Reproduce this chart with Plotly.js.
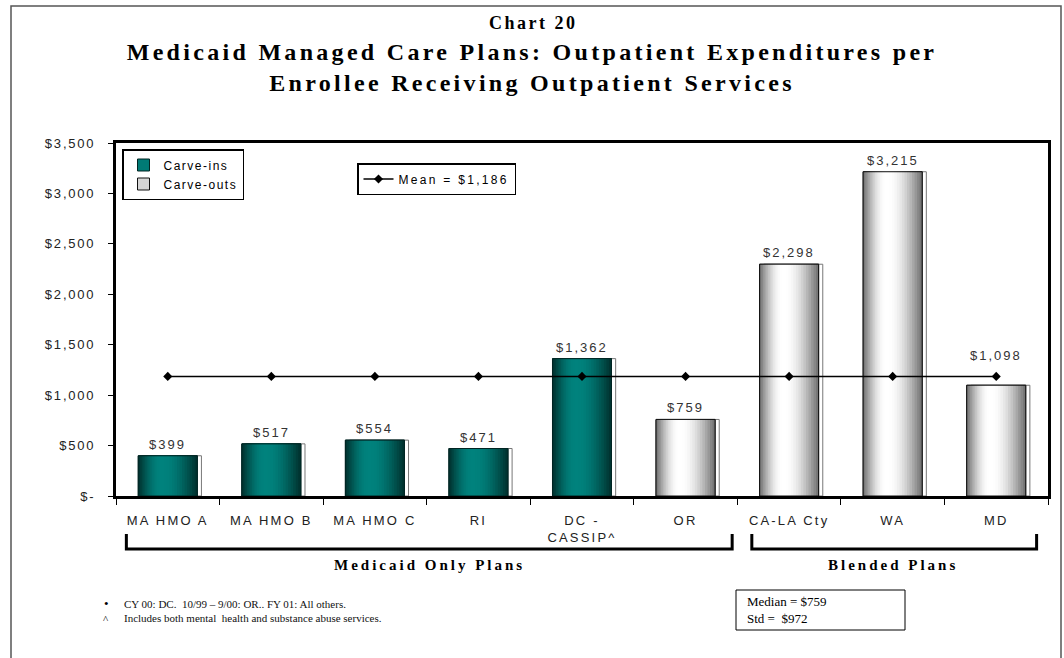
<!DOCTYPE html>
<html>
<head>
<meta charset="utf-8">
<script src="https://cdn.plot.ly/plotly-3.0.1.min.js"></script>
<style>
  html, body { margin: 0; padding: 0; background: #fff; }
  #chart { width: 1064px; height: 658px; }
  .xtick text { letter-spacing: 2.2px; }
  .ytick text { letter-spacing: 1.8px; }
</style>
</head>
<body>
<div id="chart"></div>
<script>
// ---------- data ----------
const categories = ['MA HMO A', 'MA HMO B', 'MA HMO C', 'RI', 'DC -<br>CASSIP^', 'OR', 'CA-LA Cty', 'WA', 'MD'];
const carveIns  = [399, 517, 554, 471, 1362, null, null, null, null];
const carveOuts = [null, null, null, null, null, 759, 2298, 3215, 1098];
const meanValues = [1186, 1186, 1186, 1186, 1186, 1186, 1186, 1186, 1186];
const meanLabel = 'Mean = $1,186';
const seriesNames = ['Carve-ins', 'Carve-outs'];
const yTickVals = [0, 500, 1000, 1500, 2000, 2500, 3000, 3500];
const yTickText = ['$-', '$500', '$1,000', '$1,500', '$2,000', '$2,500', '$3,000', '$3,500'];
const groupNames = ['Medicaid Only Plans', 'Blended Plans'];
const medianText = 'Median = $759';
const stdText = 'Std =  $972';
const footnotes = ['CY 00: DC.  10/99 \u2013 9/00: OR.. FY 01: All others.',
                   'Includes both mental  health and substance abuse services.'];

// ---------- layout helpers (pixel -> paper) ----------
const M = {l: 116, r: 16, t: 143, b: 162};
const PW = 1064 - M.l - M.r, PH = 658 - M.t - M.b;
const px = v => (v - M.l) / PW;
const py = v => (658 - M.b - v) / PH;
const spaced = (s, ls) => '<span style="letter-spacing:' + ls + 'px">' + s + '</span>';

const W = 0.57;           // bar width in category units
const N = 14;             // gradient layers

function hex2rgb(h){ return [1,3,5].map(i => parseInt(h.substr(i,2),16)); }
function mix(a, b, t){
  const A = hex2rgb(a), B = hex2rgb(b);
  return 'rgb(' + A.map((v,i) => Math.round(v + (B[i]-v)*t)).join(',') + ')';
}

function barSeries(values, name, opts){
  const tr = [];
  tr.push({type:'bar', x:categories, y:values, width:W, offset:-W/2 + 0.04,
    marker:{color:'#ffffff', line:{color:opts.shadow, width:1}},
    showlegend:false, hoverinfo:'skip'});
  tr.push({type:'bar', x:categories, y:values, width:W, offset:-W/2, name:spaced(name, 1.5),
    legend:'legend',
    marker:{color:opts.swatch, line:{color:opts.outline, width:1}},
    showlegend:true, hoverinfo:'skip'});
  for (let k = 0; k < N; k++){
    const t = k / (N - 1);
    const left = -W/2 + t * 0.40 * W * (N-1)/N;
    const right = W/2 - t * 0.60 * W * (N-1)/N;
    const c = mix(opts.edge, opts.center, Math.sin(t * Math.PI / 2));
    tr.push({type:'bar', x:categories, y:values, width:right-left, offset:left,
      marker:{color:c, line:{width:0}}, showlegend:false, hoverinfo:'skip'});
  }
  tr.push({type:'bar', x:categories, y:values, width:W, offset:-W/2,
    marker:{color:'rgba(0,0,0,0)', line:{color:opts.outline, width:1}},
    showlegend:false, hoverinfo:'skip'});
  return tr;
}

const traces = [];
traces.push(...barSeries(carveIns, seriesNames[0],
  {edge:'#003431', center:'#00827d', swatch:'#007a75', outline:'#002422', shadow:'#777777'}));
traces.push(...barSeries(carveOuts, seriesNames[1],
  {edge:'#767676', center:'#ffffff', swatch:'#d6d6d6', outline:'#111111', shadow:'#777777'}));

// mean line
traces.push({type:'scatter', mode:'lines+markers', x:categories, y:meanValues,
  name:spaced(meanLabel, 2.3), legend:'legend2',
  line:{color:'#000', width:1.5},
  marker:{symbol:'diamond', size:7, color:'#000'},
  hoverinfo:'skip'});

// ---------- shapes & annotations ----------
const shapes = [
  {type:'rect', xref:'paper', yref:'paper', x0:px(11), x1:px(1061), y0:py(663), y1:py(6),
   line:{color:'#555', width:1.5}, fillcolor:'rgba(0,0,0,0)', layer:'below'},
  {type:'path', xref:'x', yref:'paper',
   path:`M -0.40 ${py(534)} L -0.40 ${py(549)} L 5.45 ${py(549)} L 5.45 ${py(534)}`,
   line:{color:'#000', width:3}},
  {type:'path', xref:'x', yref:'paper',
   path:`M 5.64 ${py(534)} L 5.64 ${py(549)} L 8.39 ${py(549)} L 8.39 ${py(534)}`,
   line:{color:'#000', width:3}},
  {type:'rect', xref:'paper', yref:'paper', x0:px(736), x1:px(905), y0:py(630), y1:py(590),
   line:{color:'#000', width:1}, fillcolor:'#fff'}
];

const serif = 'Liberation Serif, Times New Roman, serif';
const sans = 'Liberation Sans, Arial, sans-serif';
const annotations = [
  {xref:'paper', yref:'paper', x:px(533), y:py(23), text:spaced('Chart 20', 2.5),
   showarrow:false, font:{family:serif, size:18, color:'#000', weight:'bold'}, xanchor:'center', yanchor:'middle'},
  {xref:'x', yref:'paper', x:2.53, y:py(565), text:spaced(groupNames[0], 3),
   showarrow:false, font:{family:serif, size:15, color:'#000', weight:'bold'}, xanchor:'center', yanchor:'middle'},
  {xref:'x', yref:'paper', x:7.0, y:py(565), text:spaced(groupNames[1], 3),
   showarrow:false, font:{family:serif, size:15, color:'#000', weight:'bold'}, xanchor:'center', yanchor:'middle'},
  {xref:'paper', yref:'paper', x:px(106), y:py(603), text:'\u2022', showarrow:false,
   font:{family:serif, size:13, color:'#000'}, xanchor:'center', yanchor:'middle'},
  {xref:'paper', yref:'paper', x:px(106), y:py(619), text:'^', showarrow:false,
   font:{family:serif, size:11, color:'#000'}, xanchor:'center', yanchor:'middle'},
  {xref:'paper', yref:'paper', x:px(122), y:py(604), text:footnotes[0], showarrow:false,
   font:{family:serif, size:11, color:'#111'}, xanchor:'left', yanchor:'middle'},
  {xref:'paper', yref:'paper', x:px(122), y:py(618), text:footnotes[1], showarrow:false,
   font:{family:serif, size:11, color:'#111'}, xanchor:'left', yanchor:'middle'},
  {xref:'paper', yref:'paper', x:px(745), y:py(610), text:medianText + '<br>' + stdText, showarrow:false,
   align:'left', font:{family:serif, size:13, color:'#000'}, xanchor:'left', yanchor:'middle'}
];

// value labels above bars (MD label lifted clear of the mean marker, as in the source)
categories.forEach((c, i) => {
  const v = carveIns[i] !== null ? carveIns[i] : carveOuts[i];
  annotations.push({xref:'x', yref:'y', x:c, y:v, yanchor:'bottom', xanchor:'center',
    yshift: c === 'MD' ? 20 : 2, showarrow:false,
    text:spaced('$' + v.toLocaleString('en-US'), 2),
    font:{family:sans, size:13, color:'#333'}});
});

const layout = {
  width:1064, height:658,
  margin:M,
  paper_bgcolor:'#fff', plot_bgcolor:'#fff',
  barmode:'overlay',
  title:{
    text:spaced('Medicaid Managed Care Plans: Outpatient Expenditures per', 3.3) + '<br>' +
         spaced('Enrollee Receiving Outpatient Services', 3.3),
    font:{family:serif, size:24, color:'#000', weight:'bold'},
    xref:'container', yref:'container', x:0.5, xanchor:'center',
    y:1 - 60/658, yanchor:'top'
  },
  xaxis:{type:'category', range:[-0.5, 8.5], showgrid:false, zeroline:false,
    showline:true, linecolor:'#000', linewidth:3, mirror:true,
    ticks:'outside', tickson:'boundaries', ticklen:6, tickwidth:1, tickcolor:'#000',
    ticklabelstandoff:10,
    tickfont:{family:sans, size:13, color:'#222'},
    fixedrange:true},
  yaxis:{range:[0, 3500], tickvals:yTickVals, ticktext:yTickText, showgrid:false, zeroline:false,
    showline:true, linecolor:'#000', linewidth:3, mirror:true,
    ticks:'outside', ticklen:5, tickwidth:1, tickcolor:'#000',
    ticklabelstandoff:10,
    tickfont:{family:sans, size:13, color:'#222'},
    fixedrange:true},
  legend:{x:px(122), y:py(149), xanchor:'left', yanchor:'top', bgcolor:'#fff',
    bordercolor:'#000', borderwidth:1.5, tracegroupgap:0,
    font:{family:sans, size:12, color:'#000'}},
  legend2:{x:px(357), y:py(163), xanchor:'left', yanchor:'top', bgcolor:'#fff',
    bordercolor:'#000', borderwidth:1.5,
    font:{family:sans, size:12, color:'#000'}},
  shapes:shapes,
  annotations:annotations,
  showlegend:true
};

Plotly.newPlot('chart', traces, layout, {displayModeBar:false, staticPlot:true});
</script>
</body>
</html>
